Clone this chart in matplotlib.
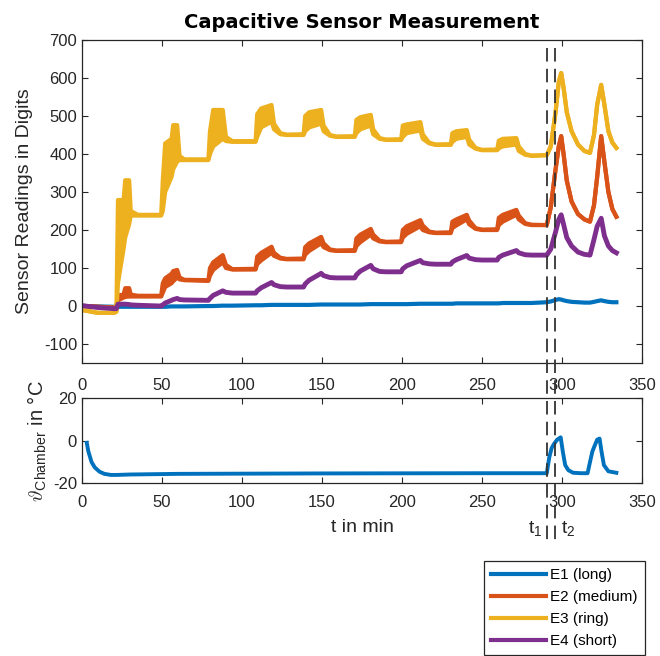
import numpy as np
import matplotlib
matplotlib.use('Agg')
from matplotlib import pyplot as plt
from matplotlib import transforms
from matplotlib.lines import Line2D

plt.rcParams['font.family'] = ['Liberation Sans', 'DejaVu Sans']
plt.rcParams['mathtext.fontset'] = 'cm'
plt.rcParams['axes.unicode_minus'] = False

# time grid of the sensor readings (min)
t_top = [2, 10, 20, 21.5,
         22.5, 26, 27, 29.5, 30.5, 35,
         49.5, 50.5, 52, 56, 57, 59.5, 61, 64,
         79, 80, 82, 88, 90, 94,
         108.5, 109.5, 112, 118.5, 120, 124, 128,
         138.5, 139.5, 142, 149.5, 151, 155, 159,
         170.5, 171.5, 174, 180.5, 182, 186, 190,
         199.5, 200.5, 203, 211.5, 213, 217, 221,
         230.5, 231.5, 234, 240.5, 242, 246, 250,
         259.5, 260.5, 263, 271.5, 273, 277, 281,
         290.5, 293, 296, 298, 299.5, 301, 303, 306, 310,
         314, 317.5, 320, 322, 324.5, 326.5, 329, 331.5, 334]

peaks_end = [397, 420, 510, 590, 613, 575, 510, 460, 425,
             408, 403, 450, 530, 582, 530, 460, 430, 416]

# E3 (ring): lower / upper edge of the oscillating band
e3_lo = [-12, -18, -18, -15,
         60, 150, 180, 215, 238, 238,
         238, 250, 300, 340, 360, 380, 384, 384,
         384, 400, 420, 440, 434, 432,
         432, 445, 470, 485, 465, 452, 450,
         450, 460, 470, 480, 460, 448, 445,
         445, 455, 465, 475, 452, 440, 437,
         437, 445, 455, 462, 440, 428, 424,
         424, 432, 440, 445, 425, 414, 410,
         410, 415, 420, 425, 408, 398, 395] + peaks_end
e3_hi = [-12, -18, -18, -15,
         279, 279, 331, 331, 250, 240,
         240, 330, 428, 440, 476, 476, 395, 386,
         386, 460, 516, 516, 445, 434,
         434, 505, 520, 529, 480, 455, 451,
         452, 500, 510, 516, 475, 450, 446,
         447, 490, 497, 503, 465, 442, 438,
         439, 475, 478, 484, 452, 430, 425,
         426, 455, 460, 463, 438, 416, 411,
         412, 435, 440, 442, 420, 400, 396] + peaks_end

e2_end = [213, 260, 360, 420, 447, 400, 330, 275, 242,
          228, 222, 265, 340, 447, 380, 300, 255, 235]

# E2 (medium)
e2_lo = [0, -2, -4, -3,
         15, 22, 24, 25, 25, 25,
         25, 35, 50, 60, 65, 75, 70, 68,
         66, 80, 95, 115, 100, 96,
         96, 110, 120, 140, 132, 125, 123,
         123, 135, 145, 165, 155, 147, 145,
         145, 158, 168, 188, 178, 170, 168,
         168, 180, 190, 210, 200, 194, 192,
         192, 205, 212, 228, 215, 203, 200,
         200, 213, 222, 240, 228, 216, 213] + e2_end
e2_hi = [0, -2, -4, -3,
         28, 30, 47, 47, 30, 27,
         27, 60, 73, 85, 92, 95, 75, 69,
         68, 100, 115, 134, 108, 97,
         98, 130, 140, 156, 140, 127, 124,
         125, 155, 165, 182, 165, 149, 146,
         147, 178, 188, 203, 188, 172, 169,
         170, 200, 210, 226, 212, 196, 193,
         194, 222, 228, 240, 225, 205, 201,
         202, 232, 240, 253, 238, 218, 214] + e2_end

# E4 (short)
e4 = [0, -4, -7, -7,
      5, 5, 5, 4, 3, 2,
      0, 3, 8, 15, 17, 20, 17, 16,
      15, 20, 28, 40, 36, 34,
      34, 40, 48, 62, 56, 51, 50,
      50, 58, 68, 86, 80, 75, 74,
      74, 82, 92, 107, 98, 91, 90,
      90, 98, 106, 120, 114, 111, 110,
      110, 116, 122, 133, 126, 122, 121,
      121, 128, 134, 146, 140, 135, 134,
      134, 150, 195, 228, 240, 215, 180, 158, 142,
      136, 134, 175, 210, 231, 185, 158, 146, 140]

# E1 (long)
e1 = [0, -1, -2, -2,
      -2, -2, -2, -2, -2, -2,
      -2, -2, -2, -1, -1, -1, -1, -1,
      0, 0, 0, 1, 1, 1,
      2, 2, 2, 3, 3, 3, 3,
      3, 3, 3, 4, 4, 4, 4,
      4, 4, 4, 5, 5, 5, 5,
      5, 5, 5, 6, 6, 6, 6,
      6, 6, 7, 7, 7, 7, 7,
      7, 7, 8, 8, 8, 8, 8,
      10, 12, 16, 18, 17, 15, 13, 11, 10,
      9, 9, 11, 13, 15, 13, 11, 10, 10]

# chamber temperature
t_temp = [3, 4, 6, 8, 11, 14, 18, 22, 30, 60,
          150, 250, 290.5, 292, 293.5, 295, 297, 299.2, 300.5, 302,
          304, 307, 312, 316, 317.5, 319, 320.6, 322, 323.5, 324.7,
          326.2, 329, 334]
temp = [-1, -5, -10, -12.5, -14.5, -15.5, -16, -16, -15.8, -15.5,
        -15.3, -15.2, -15.2, -8, -3.5, -1.5, 0.5, 1.6, -5, -11.4,
        -13.8, -15, -15.2, -15.2, -10, -5, -2, 0.5, 1, -5,
        -11.4, -14.3, -15]

t_marks = [290.5, 295.6]
labels = ['E1 (long)', 'E2 (medium)', 'E3 (ring)', 'E4 (short)']
colors = ['#0072BD', '#D95319', '#EDB120', '#7E2F8E']
axcol = '0.15'

fig = plt.figure(figsize=(6.6, 6.56), dpi=100)
ax1 = fig.add_axes([0.1242, 0.4466, 0.8485, 0.4924])
ax2 = fig.add_axes([0.1242, 0.263, 0.8485, 0.1303])

t = np.array(t_top)
ax1.plot(t, e1, color=colors[0], lw=3)
for lo, hi, c in [(e2_lo, e2_hi, colors[1]), (e3_lo, e3_hi, colors[2])]:
    ax1.fill_between(t, lo, hi, color=c, lw=0)
    ax1.plot(t, lo, color=c, lw=3)
    ax1.plot(t, hi, color=c, lw=3)
ax1.plot(t, e4, color=colors[3], lw=3.5)

ax2.plot(t_temp, temp, color=colors[0], lw=2.8)

for ax in (ax1, ax2):
    ax.set_xlim(0, 350)
    ax.set_xticks(np.arange(0, 351, 50))
    ax.tick_params(direction='in', top=True, right=True, length=4,
                   color=axcol, labelcolor=axcol, labelsize=12, width=0.8)
    for s in ax.spines.values():
        s.set_color(axcol)
        s.set_linewidth(0.9)
ax1.tick_params(axis='x', pad=11)
ax2.tick_params(axis='x', pad=8)

ax1.set_ylim(-150, 700)
ax1.set_yticks(np.arange(-100, 701, 100))
ax1.set_ylabel('Sensor Readings in Digits', fontsize=14, color=axcol, labelpad=8)
ax1.set_title('Capacitive Sensor Measurement', fontsize=14, fontweight='bold',
              family='DejaVu Sans', pad=9)

ax2.set_ylim(-20, 20)
ax2.set_yticks([-20, 0, 20])
ax2.set_ylabel(r'$\vartheta_{\mathregular{Chamber}}$ in °C', fontsize=14.5, color=axcol, labelpad=3)
ax2.set_xlabel('t in min', fontsize=14, color=axcol, labelpad=7)

# dashed markers spanning both panels
tr = transforms.blended_transform_factory(ax1.transData, fig.transFigure)
for tm in t_marks:
    fig.add_artist(Line2D([tm, tm], [1 - 48 / 656, 1 - 542 / 656], transform=tr,
                          color='0.2', lw=1.3, ls=(0, (7.5, 4))))
fig.text(283.5, 1 - 528 / 656, r'$\mathregular{t_1}$', transform=tr, ha='center',
         va='center', fontsize=14, color=axcol)
fig.text(304, 1 - 528 / 656, r'$\mathregular{t_2}$', transform=tr, ha='center',
         va='center', fontsize=14, color=axcol)

handles = [Line2D([], [], color=c, lw=3) for c in colors]
leg = fig.legend(handles, labels, loc='lower right', bbox_to_anchor=(0.977, 0.0015),
                 borderaxespad=0, fancybox=False, edgecolor=axcol, framealpha=1,
                 fontsize=11, handlelength=3.6, labelspacing=0.52, borderpad=0.45,
                 handletextpad=0.3)
leg.get_frame().set_linewidth(0.9)

fig.savefig('out.png', dpi=100)
